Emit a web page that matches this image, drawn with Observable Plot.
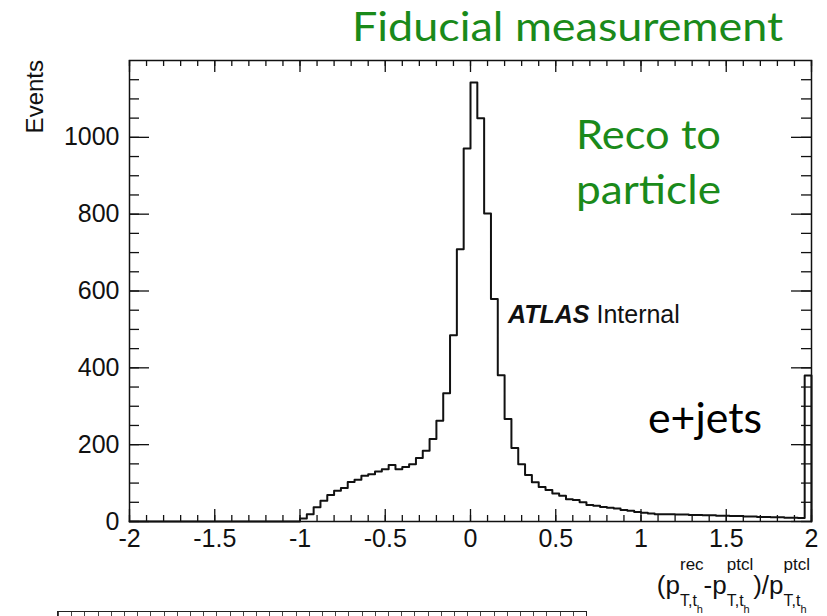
<!DOCTYPE html>
<html><head><meta charset="utf-8">
<script src="https://cdn.jsdelivr.net/npm/d3@7"></script>
<script src="https://cdn.jsdelivr.net/npm/@observablehq/plot@0.6"></script>
<style>
body{margin:0;background:#fff;}
#wrap{position:relative;width:827px;height:616px;overflow:hidden;background:#fff;}
#wrap svg{position:absolute;left:0;top:0;}
#lower{position:absolute;left:57px;top:611px;width:528px;height:20px;border:1.5px solid #222;
  background:repeating-linear-gradient(90deg,#444 0,#444 1px,transparent 1px,transparent 13.2px);}
</style></head><body><div id="wrap"><div id="lower"></div></div>
<script>
// Histogram: 100 bins of width 0.04 from -2 to 2
const binStart = -2;
const binWidth = 0.04;
const counts = [
  0,0,0,0,0,0,0,0,0,0, 0,0,0,0,0,0,0,0,0,0, 0,0,0,0,0,
  8,19,37,54,69,80,87,103,109,119,123,130,136,147,136,142,149,165,184,215,262,334,
  485,709,971,1143,1050,802,579,381,267,191,
  149,121,102,90,82,73,67,58,56,50,43,41,38,36,34,30,28,25,23,21,19,
  19,19,18,18,17,17,16,16,15,15,14,14,13,13,12,12,11,11,10,10,9,
  380
];
const xTicks = [-2,-1.5,-1,-0.5,0,0.5,1,1.5,2];
const xMinor = d3.range(0,41).map(i => +(-2 + i*0.1).toFixed(2));
const yTicks = [0,200,400,600,800,1000];
const yMinor = d3.range(0,24).map(i => i*50);

const pts = counts.map((c,i) => ({x: binStart + i*binWidth, y: c}));
const xEnd = binStart + counts.length*binWidth;
pts.push({x: xEnd, y: counts[counts.length-1]});
pts.push({x: xEnd, y: 0});

const W = 827, H = 616, mL = 129, mR = 16, mT = 60, mB = 95;
const fw = W - mL - mR, fh = H - mT - mB;
const tk = {stroke: "#111", strokeWidth: 1.3};
const chart = Plot.plot({
  width: W, height: H,
  marginLeft: mL, marginRight: mR, marginTop: mT, marginBottom: mB,
  x: {domain: [-2, 2]},
  y: {domain: [0, 1200]},
  style: {fontFamily: "'Liberation Sans', Arial, sans-serif", fontSize: "25px", color: "#111", background: "transparent"},
  marks: [
    // inward ticks on all four sides (ROOT style)
    Plot.tickX(xTicks, {x: d => d, insetTop: fh - 12, ...tk}),
    Plot.tickX(xMinor, {x: d => d, insetTop: fh - 6, ...tk}),
    Plot.tickX(xTicks, {x: d => d, insetBottom: fh - 12, ...tk}),
    Plot.tickX(xMinor, {x: d => d, insetBottom: fh - 6, ...tk}),
    Plot.tickY(yTicks, {y: d => d, insetRight: fw - 20, ...tk}),
    Plot.tickY(yMinor, {y: d => d, insetRight: fw - 10, ...tk}),
    Plot.tickY(yTicks, {y: d => d, insetLeft: fw - 20, ...tk}),
    Plot.tickY(yMinor, {y: d => d, insetLeft: fw - 10, ...tk}),
    Plot.line(pts, {x: "x", y: "y", curve: "step-after", stroke: "#111", strokeWidth: 2}),
    Plot.axisX(xTicks, {anchor: "bottom", tickSize: 0, tickPadding: 8, tickFormat: d => String(d), label: null, fontSize: 25}),
    Plot.axisY(yTicks, {anchor: "left", tickSize: 0, tickPadding: 10, tickFormat: d => String(d), label: null, fontSize: 25}),
    Plot.frame({stroke: "#111", strokeWidth: 1.5})
  ]
});
const wrap = document.getElementById("wrap");
wrap.appendChild(chart);

// Annotation overlay (real text)
const ov = d3.select(wrap).append("svg").attr("width", W).attr("height", H)
  .style("pointer-events", "none");
const green = "#1a8a1a";
function fitText(str, x, y, w, size, fill, family) {
  return ov.append("text").attr("x", x).attr("y", y).attr("font-size", size)
    .attr("font-family", family).attr("fill", fill)
    .attr("textLength", w).attr("lengthAdjust", "spacingAndGlyphs").text(str);
}
const calib = "Lato, 'Open Sans', sans-serif";
fitText("Fiducial measurement", 352, 41, 431, 41, green, calib);
fitText("Reco to", 576, 149, 145, 40, green, calib);
fitText("particle", 576, 204, 145, 40, green, calib);
fitText("e+jets", 648, 433, 114, 42, "#000", calib);

const helv = "'Liberation Sans', Arial, sans-serif";
// ATLAS Internal
const at = ov.append("text").attr("x", 508).attr("y", 323).attr("font-family", helv).attr("font-size", 25).attr("fill", "#111");
at.append("tspan").attr("font-weight", "bold").attr("font-style", "italic").text("ATLAS");
at.append("tspan").text(" Internal");

// y title
ov.append("text").attr("transform", "translate(43,60) rotate(-90)").attr("text-anchor", "end")
  .attr("font-family", helv).attr("font-size", 24).attr("fill", "#111").text("Events");

// x title as one text element: (p^rec_{T,t_h} - p^ptcl_{T,t_h}) / p^ptcl_{T,t_h}
const xt = ov.append("text").attr("font-family", helv).attr("fill", "#111");
let cx = 0;
function put(str, size, base) {
  const t = xt.append("tspan").attr("x", cx).attr("y", base).attr("font-size", size).text(str);
  return t.node().getComputedTextLength();
}
function main(str) { cx += put(str, 26, 594); }
function scripts(sup) {
  const s0 = cx;
  const wSup = put(sup, 17, 570);
  const wSub = put("T,t", 16, 606);
  cx = s0 + wSub;
  const wH = put("h", 11, 613);
  cx = s0 + Math.max(wSup, wSub + wH);
}
main("(p"); scripts("rec");
main("-p"); scripts("ptcl");
main(")/p"); scripts("ptcl");
xt.attr("transform", `translate(${810 - cx},0)`);
</script>
</body></html>
